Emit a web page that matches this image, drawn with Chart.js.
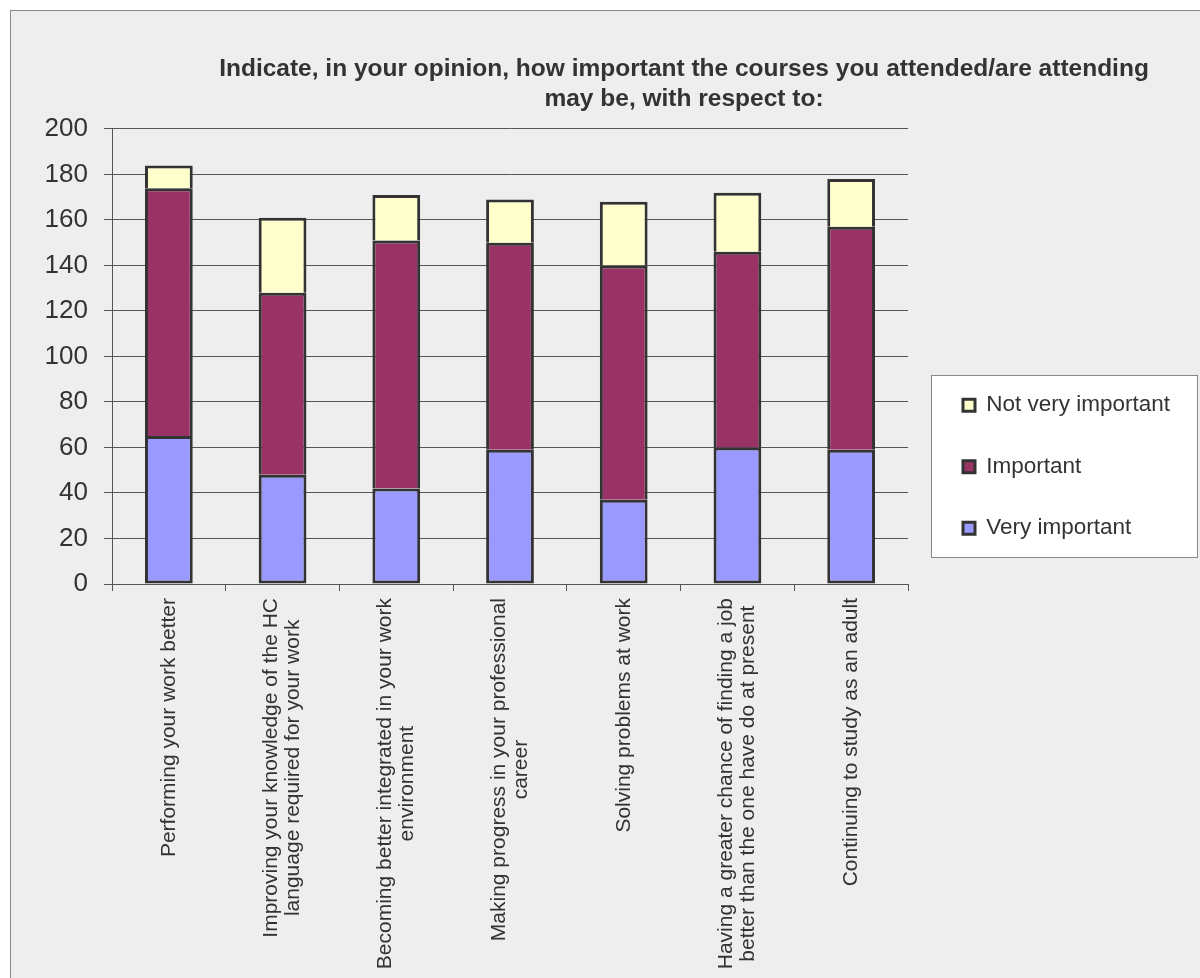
<!DOCTYPE html>
<html>
<head>
<meta charset="utf-8">
<script src="https://cdn.jsdelivr.net/npm/chart.js@4.4.1/dist/chart.umd.min.js"></script>
<style>
  html, body { margin: 0; padding: 0; background: #ffffff; overflow: hidden; }
  #frame {
    position: absolute; left: 10px; top: 10px;
    width: 1400px; height: 1000px;
    border: 1px solid #888888; background: #eeeeee;
  }
  #chart { display: block; }
</style>
</head>
<body>
<div id="frame">
  <canvas id="chart" width="1346" height="985"></canvas>
</div>
<script>
/**
 * Stacked bars: importance of the courses, 7 aspects
 */
const categories = [
    "Performing your work better",
    ["Improving your knowledge of the HC", "language required for your work"],
    ["Becoming better integrated in your work", "environment"],
    ["Making progress in your professional", "career"],
    "Solving problems at work",
    ["Having a greater chance of finding a job", "better than the one have do at present"],
    "Continuing to study as an adult"
];
const veryImportant = [65, 48, 42, 59, 37, 60, 59];
const important = [109, 80, 109, 91, 103, 86, 98];
const notVeryImportant = [10, 33, 20, 19, 28, 26, 21];
const yTicks = [0, 20, 40, 60, 80, 100, 120, 140, 160, 180, 200];

const FONT = "'Liberation Sans', Arial, sans-serif";
const TEXT = "#333333";
const LINE = "#555555";

function bar(label, values, color, skip) {
    return {
        label: label,
        data: values,
        backgroundColor: color,
        borderColor: "#333333",
        borderWidth: 3,
        borderSkipped: skip,
        barPercentage: 0.42,
        categoryPercentage: 1
    };
}

// put title / legend where the original has them, legend gets a white box
const placeBoxes = {
    id: 'placeBoxes',
    afterLayout(chart) {
        const area = chart.chartArea;
        const t = chart.titleBlock;
        const d = (area.right - 224) - (t.left + t.right) / 2;
        t.left += d;
        t.right += d;

        const lg = chart.legend;
        lg.left = area.right + 16;
        lg.width = 300;
        lg.right = lg.left + lg.width;
        lg.top = area.top + 226;
        lg.bottom = lg.top + lg.height;
    },
    beforeDraw(chart) {
        const lg = chart.legend;
        const ctx = chart.ctx;
        ctx.save();
        ctx.fillStyle = "#ffffff";
        ctx.strokeStyle = "#888888";
        ctx.lineWidth = 1;
        ctx.fillRect(lg.left + 7, lg.top + 20, 266, 182);
        ctx.strokeRect(lg.left + 7.5, lg.top + 20.5, 266, 182);
        ctx.restore();
    }
};

// rotated category labels, lines centred on each other
const xLabels = {
    id: 'xLabels',
    afterDraw(chart) {
        const ctx = chart.ctx;
        const x = chart.scales.x;
        const lineH = 22;
        ctx.save();
        ctx.font = "21px " + FONT;
        ctx.fillStyle = TEXT;
        ctx.textAlign = "center";
        ctx.textBaseline = "middle";
        chart.data.labels.forEach((lab, i) => {
            const lines = Array.isArray(lab) ? lab : [lab];
            const w = Math.max(...lines.map(l => ctx.measureText(l).width));
            ctx.save();
            ctx.translate(x.getPixelForTick(i), chart.chartArea.bottom + 14);
            ctx.rotate(-Math.PI / 2);
            lines.forEach((l, j) => {
                ctx.fillText(l, -w / 2, (j - (lines.length - 1) / 2) * lineH);
            });
            ctx.restore();
        });
        ctx.restore();
    }
};

new Chart('chart', {
    type: 'bar',
    data: {
        labels: categories,
        datasets: [
            bar("Very important", veryImportant, "#9999ff", false),
            bar("Important", important, "#993366", 'bottom'),
            bar("Not very important", notVeryImportant, "#ffffcc", 'bottom')
        ]
    },
    options: {
        responsive: false,
        animation: false,
        layout: { padding: { right: 249 } },
        plugins: {
            title: {
                display: true,
                text: ["Indicate, in your opinion, how important the courses you attended/are attending",
                       "may be, with respect to:"],
                color: TEXT,
                font: { family: FONT, size: 24.5, weight: 'bold', lineHeight: 1.224 },
                padding: { top: 43, bottom: 15 }
            },
            legend: {
                position: 'right',
                align: 'start',
                reverse: true,
                maxWidth: 200,
                labels: {
                    boxWidth: 12,
                    boxHeight: 12,
                    padding: 39,
                    color: TEXT,
                    font: { family: FONT, size: 22.5 }
                }
            },
            tooltip: { enabled: false }
        },
        scales: {
            x: {
                stacked: true,
                afterFit: s => { s.height = 412; },
                grid: {
                    display: true,
                    drawOnChartArea: false,
                    drawTicks: true,
                    tickLength: 7,
                    color: LINE,
                    offset: true
                },
                border: { color: LINE },
                ticks: { display: false }
            },
            y: {
                stacked: true,
                min: 0,
                max: 200,
                afterFit: s => { s.width = 101; },
                afterBuildTicks: s => { s.ticks = yTicks.map(v => ({ value: v })); },
                grid: { color: LINE, tickLength: 8 },
                border: { color: LINE },
                ticks: {
                    padding: 16,
                    color: TEXT,
                    font: { family: FONT, size: 26 }
                }
            }
        }
    },
    plugins: [placeBoxes, xLabels]
});
</script>
</body>
</html>
